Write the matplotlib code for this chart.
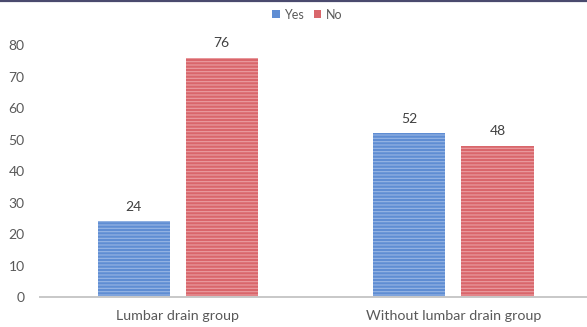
import numpy as np
import matplotlib.pyplot as plt
from matplotlib.lines import Line2D

plt.rcParams['font.family'] = ['Lato', 'DejaVu Sans']
plt.rcParams['hatch.linewidth'] = 0.8

groups = ["Lumbar drain group", "Without lumbar drain group"]
series = ["Yes", "No"]
yes_vals = [24, 52]
no_vals = [76, 48]
yticks = [0, 10, 20, 30, 40, 50, 60, 70, 80]

blue = "#5f8dd3"
red = "#d9666b"
text_gray = "#595959"

fig = plt.figure(figsize=(5.87, 3.27), dpi=100)
ax = fig.add_axes([0.068, 0.0917, 0.939, 0.7706])

x = np.arange(len(groups))
w = 0.262
off = 0.16
bars_yes = ax.bar(x - off, yes_vals, w, color=blue, edgecolor="#98b6e4",
                  hatch="-----", linewidth=0, label=series[0])
bars_no = ax.bar(x + off, no_vals, w, color=red, edgecolor="#ea9ea1",
                 hatch="-----", linewidth=0, label=series[1])

for bars, vals in ((bars_yes, yes_vals), (bars_no, no_vals)):
    for b, v in zip(bars, vals):
        ax.annotate(str(v), (b.get_x() + b.get_width() / 2, v),
                    xytext=(0, 6), textcoords="offset points",
                    ha="center", va="bottom", fontsize=10,
                    color="#404040", annotation_clip=False)

ax.set_xlim(-0.5, 1.5)
ax.set_ylim(0, 80)
ax.set_yticks(yticks)
ax.set_xticks(x)
ax.set_xticklabels(groups)
ax.tick_params(axis="y", length=0, pad=11, labelsize=10, labelcolor=text_gray)
ax.tick_params(axis="x", length=0, pad=9, labelsize=10.3, labelcolor=text_gray)
for s in ("top", "right", "left"):
    ax.spines[s].set_visible(False)
ax.spines["bottom"].set_color("#c8c8c8")
ax.spines["bottom"].set_linewidth(1.4)

leg = fig.legend(handles=[bars_yes, bars_no], labels=series, loc="center",
                 bbox_to_anchor=(0.523, 0.955), ncol=2, frameon=False,
                 fontsize=9, handlelength=0.6, handleheight=0.6,
                 handletextpad=0.35, columnspacing=0.8, labelcolor=text_gray)
for h in leg.legend_handles:
    h.set_hatch(None)

# thin dark rule along the top edge
fig.add_artist(Line2D([0, 1], [0.997, 0.997], transform=fig.transFigure,
                      color="#4a4a6e", linewidth=1.6))

fig.savefig("out.png", dpi=100)
